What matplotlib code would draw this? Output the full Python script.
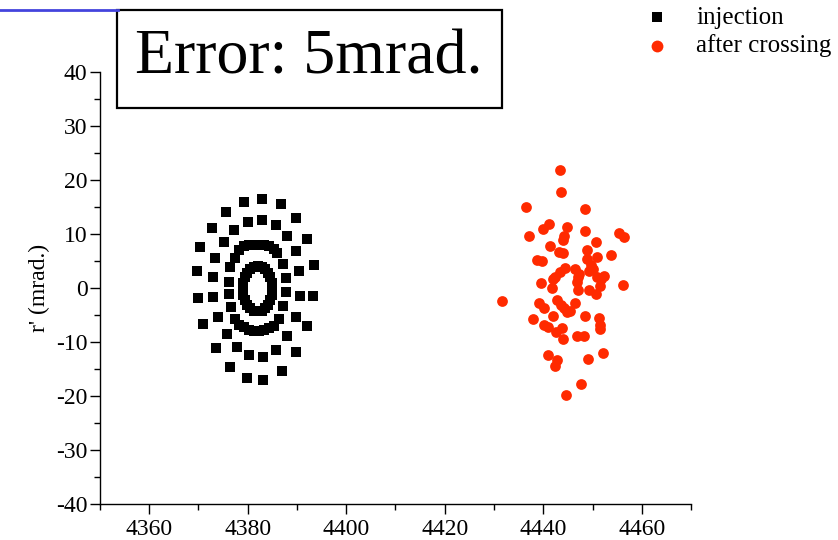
import matplotlib
matplotlib.use("Agg")
import matplotlib.pyplot as plt
from matplotlib.lines import Line2D
from matplotlib.patches import Rectangle

plt.rcParams['font.family'] = ['Liberation Serif', 'DejaVu Serif']
plt.rcParams['axes.unicode_minus'] = False

# injection: outer ring, second ring, third ring, inner ring
inj_x = [4379.3, 4382.9, 4386.7, 4375.6, 4389.9, 4372.7, 4392.1, 4370.3, 4393.4, 4369.7,
         4393.2, 4369.9, 4392.1, 4371.0, 4389.9, 4373.6, 4386.9, 4376.4, 4379.8, 4383.2,
         4380.0, 4382.9, 4385.7, 4377.3, 4388.0, 4375.1, 4389.7, 4373.4, 4390.5, 4372.9,
         4390.7, 4372.9, 4389.7, 4373.9, 4388.0, 4375.8, 4385.8, 4377.9, 4380.3, 4383.2,
         4377.5, 4378.3, 4379.3, 4380.3, 4381.3, 4382.3, 4383.3, 4384.3, 4385.3, 4386.0,
         4376.5, 4376.1, 4376.1, 4376.6, 4377.4, 4387.2, 4387.7, 4387.7, 4387.2, 4386.4,
         4378.3, 4379.3, 4380.3, 4381.3, 4382.3, 4383.3, 4384.3, 4385.3,
         4385.0, 4384.9, 4384.6, 4384.1, 4383.5, 4382.8, 4382.0, 4381.2, 4380.5, 4379.9,
         4379.4, 4379.1, 4379.0, 4379.1, 4379.4, 4379.9, 4380.5, 4381.2, 4382.0, 4382.8,
         4383.5, 4384.1, 4384.6, 4384.9]
inj_y = [15.9, 16.5, 15.5, 14.1, 13.0, 11.2, 9.1, 7.5, 4.2, 3.1,
         -1.4, -1.8, -7.0, -6.6, -11.8, -11.1, -15.3, -14.6, -16.7, -17.0,
         12.2, 12.5, 11.6, 10.8, 9.7, 8.6, 6.8, 5.6, 3.1, 2.0,
         -1.4, -1.6, -5.3, -5.3, -8.8, -8.5, -11.5, -11.0, -12.5, -12.7,
         5.6, 7.1, 7.7, 7.9, 8.0, 8.0, 7.9, 7.7, 7.3, 6.5,
         3.8, 1.2, -1.2, -3.6, -5.7, 4.4, 1.9, -0.8, -3.3, -5.7,
         -6.8, -7.3, -7.7, -7.9, -7.9, -7.8, -7.5, -7.0,
         -0.15, 0.94, 1.95, 2.82, 3.49, 3.91, 4.05, 3.91, 3.49, 2.82,
         1.95, 0.94, -0.15, -1.24, -2.25, -3.12, -3.79, -4.21, -4.35, -4.21,
         -3.79, -3.12, -2.25, -1.24]

# after crossing
cross_x = [4443.4, 4443.6, 4436.4, 4448.5, 4441.1, 4440.0, 4444.8, 4448.5, 4455.4, 4456.3,
           4437.1, 4444.3, 4444.1, 4450.7, 4441.4, 4448.8, 4443.1, 4444.1, 4453.7, 4451.0,
           4438.7, 4439.8, 4448.8, 4449.6, 4444.5, 4446.4, 4450.0, 4443.3, 4447.3, 4449.3,
           4442.3, 4442.0, 4447.0, 4451.0, 4452.4, 4451.7, 4439.6, 4446.8, 4456.1, 4441.8,
           4447.0, 4451.5, 4449.2, 4450.7, 4431.7, 4439.1, 4442.8, 4440.2, 4443.6, 4444.3,
           4444.8, 4445.5, 4446.5, 4442.0, 4448.4, 4437.9, 4451.3, 4451.5, 4451.5, 4440.2,
           4440.9, 4443.9, 4442.6, 4444.1, 4446.8, 4448.3, 4452.2, 4441.0, 4449.0, 4442.7,
           4442.4, 4447.6, 4444.6]
cross_y = [21.8, 17.7, 15.0, 14.6, 11.8, 10.9, 11.3, 10.5, 10.2, 9.4,
           9.6, 9.7, 8.9, 8.5, 7.7, 7.0, 6.6, 6.5, 6.2, 5.7,
           5.2, 5.0, 5.3, 4.3, 3.7, 3.6, 3.6, 2.9, 2.6, 3.1,
           2.1, 1.7, 2.0, 2.1, 2.3, 1.7, 1.0, 1.1, 0.5, 0.0,
           -0.3, 0.3, -0.3, -1.1, -2.5, -2.7, -2.3, -3.7, -3.1, -3.7,
           -4.4, -4.3, -2.8, -5.2, -5.1, -5.8, -5.6, -6.8, -7.6, -6.8,
           -7.3, -7.4, -8.2, -9.4, -8.8, -8.8, -12.0, -12.5, -13.1, -13.3,
           -14.4, -17.7, -19.8]

fig = plt.figure(figsize=(8.38, 5.4), dpi=100)
ax = fig.add_axes([0.1193, 0.0667, 0.7053, 0.8])

ax.scatter(inj_x, inj_y, marker='s', s=48, color='black', linewidths=0, label='injection')
ax.scatter(cross_x, cross_y, marker='o', s=60, color='#ff2a00', linewidths=0, label='after crossing')

ax.set_xlim(4350, 4470)
ax.set_ylim(-40, 40)
ax.set_xticks([4360, 4380, 4400, 4420, 4440, 4460])
ax.set_xticks(range(4350, 4471, 10), minor=True)
ax.set_yticks(range(-40, 41, 10))
ax.set_yticks(range(-40, 41, 5), minor=True)
ax.tick_params(which='major', length=7, width=1, labelsize=17, direction='out')
ax.tick_params(which='minor', length=4.5, width=1, direction='out')
ax.tick_params(axis='y', pad=2)
for side in ['top', 'right']:
    ax.spines[side].set_visible(False)
ax.spines['left'].set_linewidth(1)
ax.spines['bottom'].set_linewidth(1)
ax.set_ylabel("r' (mrad.)", fontsize=17, labelpad=4)

ax.legend(loc='upper left', bbox_to_anchor=(0.744, 1.03), bbox_transform=fig.transFigure,
          frameon=False, fontsize=18, handletextpad=1.1, labelspacing=0.22,
          markerscale=1.1, handlelength=0.9)

# blue line top-left and title box
fig.add_artist(Line2D([0, 0.1408], [0.9815, 0.9815], color='#4444dd', lw=2))
fig.add_artist(Rectangle((0.1396, 0.80), 0.459, 0.1815, transform=fig.transFigure,
                         facecolor='white', edgecolor='black', lw=1.6))
fig.text(0.369, 0.891, 'Error: 5mrad.', fontsize=46, ha='center', va='center')

fig.savefig('out.png', dpi=100)
